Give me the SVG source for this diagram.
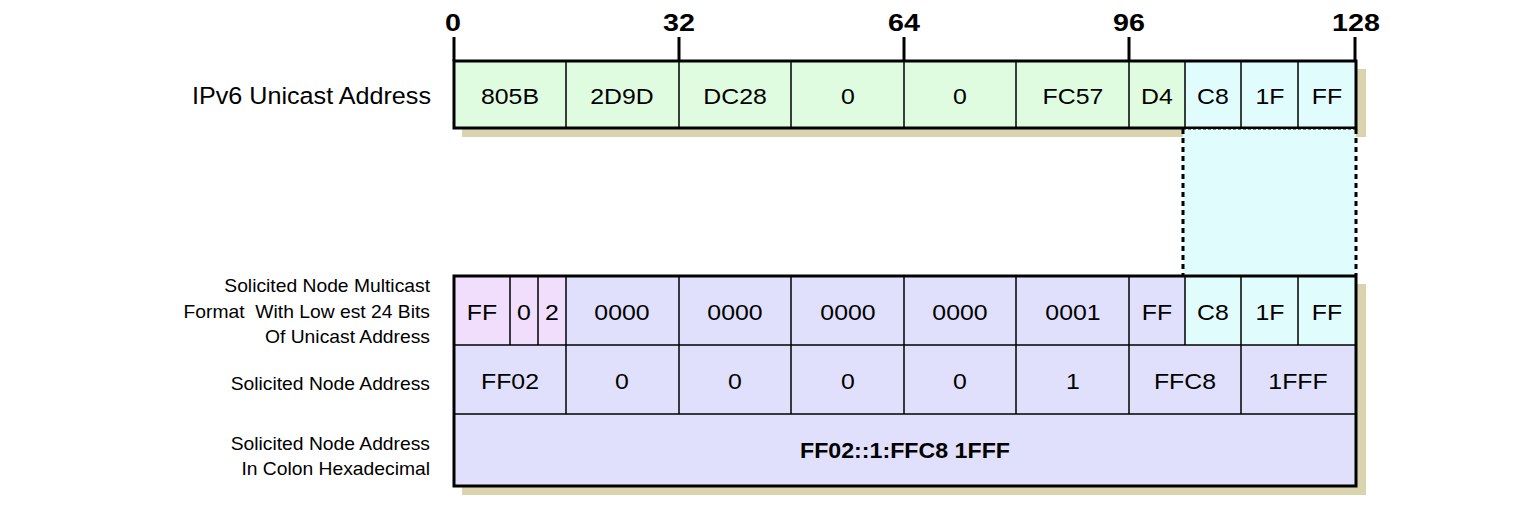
<svg xmlns="http://www.w3.org/2000/svg" width="1536" height="506" viewBox="0 0 1536 506">
<style>
text{font-family:"Liberation Sans",Arial,sans-serif;fill:#000}
.cell{font-size:22px;text-anchor:middle}
.lbl{font-size:17.7px;text-anchor:end;white-space:pre}
.big{font-size:23.3px;text-anchor:end}
.tick{font-size:23.5px;font-weight:bold;text-anchor:middle}
.bold{font-size:22.3px;font-weight:bold;text-anchor:middle}
.ln{stroke:#000;stroke-width:1.5}
.shadow{fill:#d9d4ad}
.g{fill:#e0fce0}
.c{fill:#e0fcfc}
.p{fill:#f0defc}
.v{fill:#e0e0fc}
</style>
<g id="scale">
<g stroke="#000" stroke-width="3">
<line x1="454" y1="37" x2="454" y2="61"/>
<line x1="679" y1="37" x2="679" y2="61"/>
<line x1="904" y1="37" x2="904" y2="61"/>
<line x1="1129" y1="37" x2="1129" y2="61"/>
<line x1="1355" y1="37" x2="1355" y2="61"/>
</g>
<text class="tick" transform="matrix(1.22 0 0 1 453 31)">0</text>
<text class="tick" transform="matrix(1.22 0 0 1 679 31)">32</text>
<text class="tick" transform="matrix(1.22 0 0 1 904 31)">64</text>
<text class="tick" transform="matrix(1.22 0 0 1 1129 31)">96</text>
<text class="tick" transform="matrix(1.22 0 0 1 1356 31)">128</text>
</g>
<g id="unicast">
<rect class="shadow" x="462" y="69" width="904" height="68"/>
<rect class="g" x="454" y="61" width="731" height="67"/>
<rect class="c" x="1185" y="61" width="170" height="67"/>
<g class="ln">
<line x1="566" y1="61" x2="566" y2="128"/>
<line x1="679" y1="61" x2="679" y2="128"/>
<line x1="791" y1="61" x2="791" y2="128"/>
<line x1="904" y1="61" x2="904" y2="128"/>
<line x1="1016" y1="61" x2="1016" y2="128"/>
<line x1="1129" y1="61" x2="1129" y2="128"/>
<line x1="1185" y1="61" x2="1185" y2="128"/>
<line x1="1241" y1="61" x2="1241" y2="128"/>
<line x1="1298" y1="61" x2="1298" y2="128"/>
</g>
<rect x="454" y="61" width="902" height="67" fill="none" stroke="#000" stroke-width="3"/>
<text class="big" transform="matrix(1.08 0 0 1 431 104)">IPv6 Unicast Address</text>
<text class="cell" transform="matrix(1.13 0 0 1 510 104)">805B</text>
<text class="cell" transform="matrix(1.13 0 0 1 622 104)">2D9D</text>
<text class="cell" transform="matrix(1.13 0 0 1 735 104)">DC28</text>
<text class="cell" transform="matrix(1.13 0 0 1 848 104)">0</text>
<text class="cell" transform="matrix(1.13 0 0 1 960 104)">0</text>
<text class="cell" transform="matrix(1.13 0 0 1 1073 104)">FC57</text>
<text class="cell" transform="matrix(1.13 0 0 1 1157 104)">D4</text>
<text class="cell" transform="matrix(1.13 0 0 1 1213 104)">C8</text>
<text class="cell" transform="matrix(1.13 0 0 1 1270 104)">1F</text>
<text class="cell" transform="matrix(1.13 0 0 1 1327 104)">FF</text>
</g>
<g id="connectors">
<rect class="c" x="1183" y="129" width="173" height="146"/>
<line x1="1183" y1="129" x2="1356" y2="129" stroke="#000" stroke-width="1" stroke-dasharray="3,2"/>
<line x1="1183" y1="129" x2="1183" y2="275" stroke="#000" stroke-width="3" stroke-dasharray="5,4"/>
<line x1="1356" y1="129" x2="1356" y2="275" stroke="#000" stroke-width="3" stroke-dasharray="5,4"/>
</g>
<g id="multicast">
<rect class="shadow" x="462" y="284" width="904" height="211"/>
<rect class="p" x="454" y="276" width="112" height="69"/>
<rect class="v" x="566" y="276" width="619" height="69"/>
<rect class="c" x="1185" y="276" width="170" height="69"/>
<rect class="v" x="454" y="345" width="901" height="141"/>
<g class="ln">
<line x1="510" y1="276" x2="510" y2="345"/>
<line x1="538" y1="276" x2="538" y2="345"/>
<line x1="566" y1="276" x2="566" y2="414"/>
<line x1="679" y1="276" x2="679" y2="414"/>
<line x1="791" y1="276" x2="791" y2="414"/>
<line x1="904" y1="276" x2="904" y2="414"/>
<line x1="1016" y1="276" x2="1016" y2="414"/>
<line x1="1129" y1="276" x2="1129" y2="414"/>
<line x1="1185" y1="276" x2="1185" y2="345"/>
<line x1="1241" y1="276" x2="1241" y2="414"/>
<line x1="1298" y1="276" x2="1298" y2="345"/>
<line x1="454" y1="345" x2="1355" y2="345"/>
<line x1="454" y1="414" x2="1355" y2="414"/>
</g>
<rect x="454" y="276" width="902" height="210" fill="none" stroke="#000" stroke-width="3"/>
<text class="lbl" transform="matrix(1.09 0 0 1 430 292)">Solicited Node Multicast</text>
<text class="lbl" transform="matrix(1.09 0 0 1 430 318)">Format  With Low est 24 Bits</text>
<text class="lbl" transform="matrix(1.09 0 0 1 430 343)">Of Unicast Address</text>
<text class="lbl" transform="matrix(1.09 0 0 1 430 390)">Solicited Node Address</text>
<text class="lbl" transform="matrix(1.09 0 0 1 430 450)">Solicited Node Address</text>
<text class="lbl" transform="matrix(1.09 0 0 1 430 475)">In Colon Hexadecimal</text>
<text class="cell" transform="matrix(1.13 0 0 1 482 320)">FF</text>
<text class="cell" transform="matrix(1.13 0 0 1 524 320)">0</text>
<text class="cell" transform="matrix(1.13 0 0 1 552 320)">2</text>
<text class="cell" transform="matrix(1.13 0 0 1 622 320)">0000</text>
<text class="cell" transform="matrix(1.13 0 0 1 735 320)">0000</text>
<text class="cell" transform="matrix(1.13 0 0 1 848 320)">0000</text>
<text class="cell" transform="matrix(1.13 0 0 1 960 320)">0000</text>
<text class="cell" transform="matrix(1.13 0 0 1 1073 320)">0001</text>
<text class="cell" transform="matrix(1.13 0 0 1 1157 320)">FF</text>
<text class="cell" transform="matrix(1.13 0 0 1 1213 320)">C8</text>
<text class="cell" transform="matrix(1.13 0 0 1 1270 320)">1F</text>
<text class="cell" transform="matrix(1.13 0 0 1 1327 320)">FF</text>
<text class="cell" transform="matrix(1.13 0 0 1 510 389)">FF02</text>
<text class="cell" transform="matrix(1.13 0 0 1 622 389)">0</text>
<text class="cell" transform="matrix(1.13 0 0 1 735 389)">0</text>
<text class="cell" transform="matrix(1.13 0 0 1 848 389)">0</text>
<text class="cell" transform="matrix(1.13 0 0 1 960 389)">0</text>
<text class="cell" transform="matrix(1.13 0 0 1 1073 389)">1</text>
<text class="cell" transform="matrix(1.13 0 0 1 1185 389)">FFC8</text>
<text class="cell" transform="matrix(1.13 0 0 1 1298 389)">1FFF</text>
<text class="bold" transform="matrix(1.04 0 0 1 905 458)">FF02::1:FFC8 1FFF</text>
</g>
</svg>
